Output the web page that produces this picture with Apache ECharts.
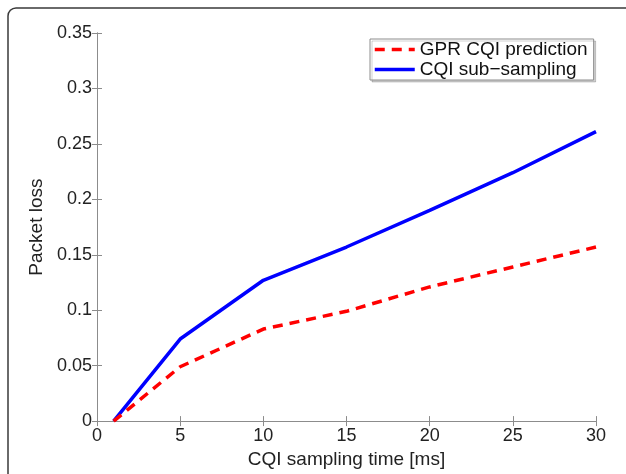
<!DOCTYPE html>
<html>
<head>
<meta charset="utf-8">
<script src="https://cdn.jsdelivr.net/npm/echarts@6/dist/echarts.min.js"></script>
<style>
  html, body { margin: 0; padding: 0; background: #fff; }
  #chart { width: 626px; height: 474px; }
</style>
</head>
<body>
<div id="chart"></div>
<script>
// sampling times (ms)
const samplingTimes = [1, 5, 10, 15, 20, 25, 30]
// packet loss per method
const gprLoss = [0, 0.049, 0.083, 0.099, 0.121, 0.139, 0.157]
const subSamplingLoss = [0, 0.074, 0.127, 0.157, 0.190, 0.224, 0.261]
const seriesNames = ['GPR CQI prediction', 'CQI sub\u2212sampling']

const font = 'Liberation Sans, Arial, sans-serif'
const tickSize = 18
const nameSize = 19
const axisGray = '#8c8c8c'

const chart = echarts.init(document.getElementById('chart'), null, { renderer: 'canvas' })

const pair = (xs, ys) => xs.map((x, i) => [x, ys[i]])

// mirrored ticks on top / right, like matlab box on
const mirrorAxis = {
  show: true,
  axisLine: { show: true, lineStyle: { color: axisGray, width: 1 } },
  axisTick: { show: true, inside: true, length: 5, lineStyle: { color: axisGray } },
  axisLabel: { show: false },
  splitLine: { show: false }
}

chart.setOption({
  animation: false,
  backgroundColor: '#fff',
  grid: { left: 97, top: 33, right: 30, bottom: 48 },
  graphic: [{
    type: 'rect',
    shape: { x: 8, y: 8, width: 640, height: 490, r: 8 },
    style: { fill: 'none', stroke: '#3a3a3a', lineWidth: 1.5 },
    silent: true
  }],
  legend: {
    left: 370,
    top: 39,
    orient: 'vertical',
    itemWidth: 40,
    itemHeight: 10,
    itemGap: 1,
    padding: [1, 6, 1, 3],
    borderColor: axisGray,
    borderWidth: 1,
    backgroundColor: '#fff',
    shadowColor: 'rgba(0,0,0,0.18)',
    shadowOffsetX: 2,
    shadowOffsetY: 2,
    shadowBlur: 0,
    itemStyle: { opacity: 0 },
    lineStyle: { width: 3.5 },
    textStyle: { fontFamily: font, fontSize: nameSize, color: '#111' },
    data: seriesNames
  },
  xAxis: [{
    type: 'value',
    min: 0,
    max: 30,
    interval: 5,
    name: 'CQI sampling time [ms]',
    nameLocation: 'middle',
    nameGap: 24,
    nameTextStyle: { fontFamily: font, fontSize: nameSize, color: '#222' },
    axisLine: { show: true, onZero: false, lineStyle: { color: axisGray, width: 1 } },
    axisTick: { inside: true, length: 5, lineStyle: { color: axisGray } },
    axisLabel: { fontFamily: font, fontSize: tickSize, color: '#222', margin: 6 },
    splitLine: { show: false }
  }, {
    ...mirrorAxis,
    type: 'value',
    position: 'top',
    min: 0,
    max: 30,
    interval: 5
  }],
  yAxis: [{
    type: 'value',
    min: 0,
    max: 0.35,
    interval: 0.05,
    name: 'Packet loss',
    nameLocation: 'middle',
    nameGap: 48,
    nameTextStyle: { fontFamily: font, fontSize: nameSize, color: '#222' },
    axisLine: { show: true, lineStyle: { color: axisGray, width: 1 } },
    axisTick: { inside: true, length: 5, lineStyle: { color: axisGray } },
    axisLabel: {
      fontFamily: font,
      fontSize: tickSize,
      color: '#222',
      margin: 5,
      formatter: v => String(+v.toFixed(2))
    },
    splitLine: { show: false }
  }, {
    ...mirrorAxis,
    type: 'value',
    position: 'right',
    min: 0,
    max: 0.35,
    interval: 0.05
  }],
  series: [{
    name: seriesNames[0],
    type: 'line',
    data: pair(samplingTimes, gprLoss),
    symbol: 'none',
    color: '#ff0000',
    lineStyle: { color: '#ff0000', width: 3.5, type: [10, 7] },
    z: 3
  }, {
    name: seriesNames[1],
    type: 'line',
    data: pair(samplingTimes, subSamplingLoss),
    symbol: 'none',
    color: '#0000ff',
    lineStyle: { color: '#0000ff', width: 3.5 },
    z: 2
  }]
})
</script>
</body>
</html>
